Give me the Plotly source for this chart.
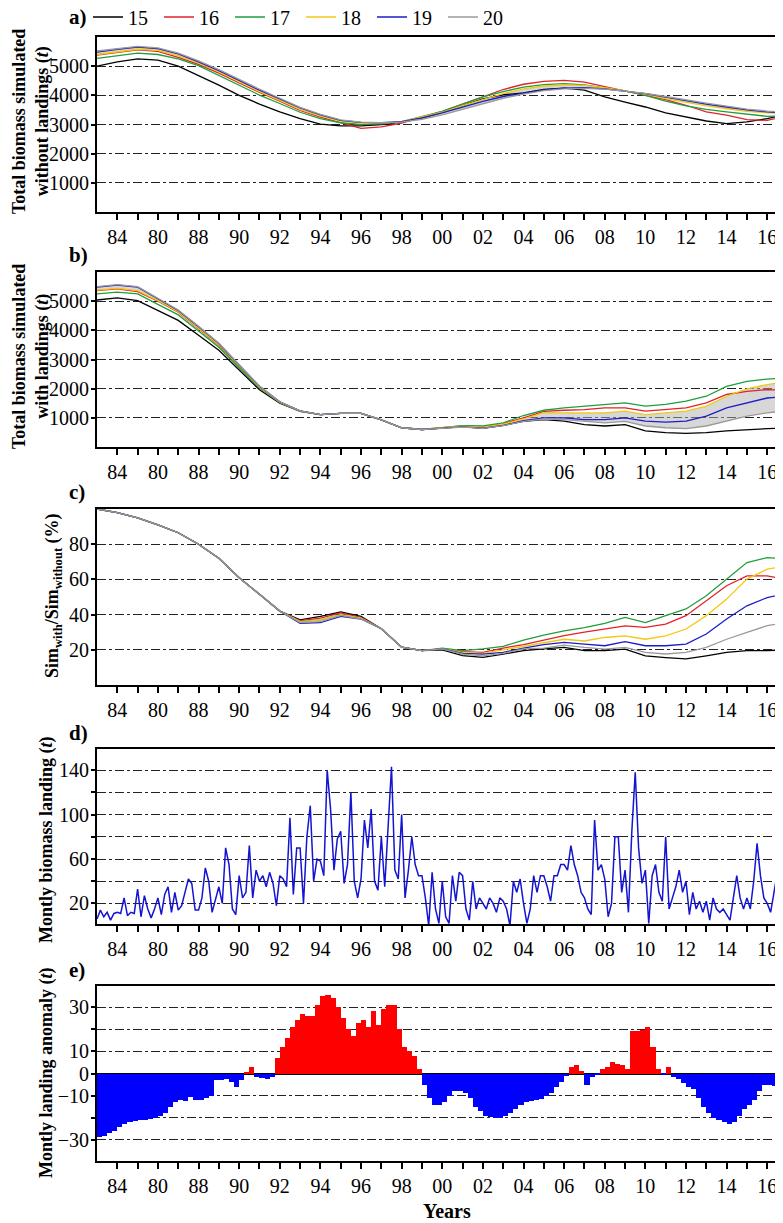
import plotly.graph_objects as go

# page body has an 8px default margin: figure is sized so that it fills the window exactly
OFF = 8
W, H = 783 - OFF, 1223 - OFF
FONT = "Liberation Serif, DejaVu Serif, Times New Roman, Times, serif"

# ---------------- data ----------------
YEARS = list(range(1983, 2017)) + [2016.75]
SERIES = ["15", "16", "17", "18", "19", "20"]

A_15 = [5000, 5150, 5250, 5210, 5000, 4680, 4350, 4000, 3700, 3430, 3200, 3010, 2950, 2950, 3000, 3080, 3220, 3420, 3650, 3880, 4020, 4080, 4200, 4250, 4180, 3950, 3770, 3600, 3400, 3250, 3120, 3030, 3090, 3200, 3320]
A_16 = [5380, 5470, 5560, 5510, 5300, 5060, 4760, 4430, 4100, 3800, 3480, 3250, 3050, 2870, 2920, 3050, 3250, 3450, 3700, 3950, 4200, 4380, 4480, 4510, 4450, 4300, 4150, 4020, 3850, 3660, 3430, 3320, 3170, 3140, 3260]
A_17 = [5270, 5370, 5450, 5400, 5250, 5020, 4680, 4340, 4010, 3720, 3420, 3200, 3060, 3000, 3020, 3100, 3280, 3450, 3700, 3950, 4130, 4280, 4370, 4400, 4360, 4250, 4150, 4000, 3800, 3640, 3520, 3430, 3350, 3280, 3290]
A_18 = [5400, 5500, 5580, 5540, 5350, 5110, 4800, 4460, 4130, 3830, 3520, 3290, 3120, 3050, 3050, 3100, 3250, 3420, 3650, 3860, 4060, 4220, 4320, 4360, 4340, 4260, 4160, 4040, 3890, 3760, 3640, 3540, 3450, 3400, 3380]
A_19 = [5480, 5580, 5650, 5600, 5420, 5150, 4850, 4510, 4180, 3880, 3570, 3330, 3140, 3070, 3060, 3100, 3230, 3400, 3600, 3790, 3960, 4080, 4190, 4250, 4260, 4220, 4150, 4060, 3940, 3810, 3700, 3600, 3500, 3430, 3400]
A_20 = [5520, 5610, 5680, 5630, 5450, 5180, 4880, 4550, 4210, 3900, 3590, 3350, 3160, 3080, 3060, 3080, 3180, 3330, 3520, 3720, 3900, 4040, 4160, 4220, 4240, 4210, 4150, 4070, 3960, 3840, 3730, 3630, 3530, 3460, 3420]

B_15 = [5040, 5110, 5020, 4680, 4340, 3830, 3320, 2640, 1960, 1500, 1220, 1110, 1150, 1150, 930, 660, 600, 650, 700, 640, 740, 880, 940, 890, 770, 720, 770, 550, 490, 470, 490, 550, 600, 630, 650]
B_16 = [5360, 5420, 5330, 5000, 4620, 4060, 3480, 2760, 2050, 1540, 1230, 1110, 1150, 1150, 930, 660, 600, 660, 720, 700, 800, 1000, 1220, 1260, 1280, 1340, 1340, 1230, 1290, 1340, 1510, 1800, 1910, 1970, 1950]
B_17 = [5250, 5310, 5250, 4900, 4530, 3980, 3420, 2720, 2020, 1530, 1230, 1110, 1150, 1150, 930, 660, 600, 660, 730, 720, 830, 1080, 1260, 1340, 1400, 1460, 1510, 1400, 1460, 1570, 1740, 2080, 2250, 2330, 2360]
B_18 = [5380, 5440, 5360, 5020, 4640, 4080, 3500, 2780, 2060, 1540, 1230, 1110, 1150, 1150, 930, 660, 600, 660, 710, 680, 780, 960, 1180, 1170, 1170, 1170, 1230, 1110, 1170, 1230, 1400, 1740, 1990, 2140, 2220]
B_19 = [5480, 5550, 5480, 5080, 4680, 4120, 3550, 2810, 2080, 1550, 1240, 1110, 1150, 1150, 930, 660, 600, 650, 690, 650, 740, 900, 1000, 1000, 940, 940, 1000, 890, 850, 890, 1060, 1340, 1510, 1680, 1720]
B_20 = [5500, 5570, 5500, 5100, 4700, 4140, 3560, 2820, 2090, 1550, 1240, 1110, 1150, 1150, 930, 660, 600, 640, 680, 640, 730, 880, 960, 940, 880, 830, 880, 720, 660, 630, 720, 890, 1060, 1170, 1230]

C_15 = [100, 98, 95, 91, 86.5, 80, 72, 61, 51.5, 42, 37, 39, 41.5, 39, 32, 21.5, 19.5, 20, 16.7, 15.7, 17.6, 19.5, 20.5, 21.4, 19.5, 19.5, 20.4, 16.6, 15.6, 14.8, 16.6, 18.5, 19.5, 19.5, 20]
C_16 = [100, 98, 95, 91, 86.5, 80, 72, 61, 51.5, 42, 36.5, 38, 41, 38.5, 32, 21.5, 19.5, 20.5, 19, 18.5, 21, 23, 25.5, 28, 30, 32, 33.6, 32.7, 34.6, 39.4, 47.9, 56.4, 62, 62, 60.4]
C_17 = [100, 98, 95, 91, 86.5, 80, 72, 61, 51.5, 42, 36, 37, 40, 38, 32, 21.5, 19.5, 21, 19.5, 20.5, 22, 25.5, 28.4, 30.8, 32.6, 35, 38.4, 35.5, 39.4, 43.2, 50.7, 60.2, 69.6, 72.4, 71.9]
C_18 = [100, 98, 95, 91, 86.5, 80, 72, 61, 51.5, 42, 36, 37, 40, 38, 32, 21.5, 19.5, 20.5, 18.5, 18, 20, 22, 24, 26, 25, 27, 27.9, 26, 27.9, 31.8, 39.4, 48.8, 60.2, 65.8, 67.3]
C_19 = [100, 98, 95, 91, 86.5, 80, 72, 61, 51.5, 42, 35, 35.5, 39, 37.5, 32, 21.5, 19.5, 20.5, 18, 17.5, 18.5, 21, 23, 24.2, 23.2, 22.3, 24.6, 22.3, 22.3, 23.2, 29, 37.5, 45, 49.7, 51.6]
C_20 = [100, 98, 95, 91, 86.5, 80, 72, 61, 51.5, 42, 35.5, 36, 39.5, 37.5, 32, 21.5, 19.5, 20.5, 17.5, 16.5, 18, 20.5, 21, 22.7, 21.4, 20.4, 21.4, 18.5, 17.6, 18.5, 21.4, 26, 29.9, 33.7, 35.2]

# monthly landings, sampled every two months (6 values per year, 1983-2016)
LANDING = [
    6, 14, 8, 12, 5, 11,        # 1983
    12, 11, 25, 9, 12, 11,      # 1984
    33, 8, 27, 15, 7, 15,       # 1985
    25, 10, 28, 35, 12, 30,     # 1986
    14, 18, 30, 42, 38, 14,     # 1987
    14, 25, 52, 40, 12, 24,     # 1988
    35, 20, 70, 55, 15, 10,     # 1989
    45, 25, 30, 72, 25, 50,     # 1990
    40, 45, 35, 48, 38, 18,     # 1991
    45, 42, 35, 97, 28, 70,     # 1992
    70, 20, 80, 108, 40, 60,    # 1993
    58, 45, 140, 105, 50, 78,   # 1994
    85, 38, 55, 120, 40, 25,    # 1995
    42, 95, 70, 105, 40, 32,    # 1996
    80, 35, 85, 143, 50, 42,    # 1997
    100, 25, 50, 80, 55, 45,    # 1998
    45, 25, 0, 48, 15, 2,       # 1999
    40, 8, 2, 45, 22, 48,       # 2000
    45, 15, 5, 40, 15, 25,      # 2001
    20, 15, 25, 20, 12, 25,     # 2002
    22, 15, 0, 40, 30, 42,      # 2003
    20, 2, 15, 45, 30, 45,      # 2004
    45, 35, 22, 45, 45, 55,     # 2005
    55, 50, 72, 55, 45, 30,     # 2006
    25, 15, 10, 95, 50, 55,     # 2007
    42, 8, 20, 80, 80, 30,      # 2008
    50, 12, 85, 138, 70, 38,    # 2009
    50, 2, 45, 55, 30, 22,      # 2010
    80, 15, 25, 35, 50, 30,     # 2011
    40, 10, 30, 15, 22, 12,     # 2012
    22, 5, 25, 15, 12, 15,      # 2013
    10, 5, 25, 45, 25, 15,      # 2014
    25, 15, 40, 74, 45, 25,     # 2015
    20, 12, 30, 48, 40, 30,     # 2016
]
LANDING_X = [1983 + i / 6 for i in range(len(LANDING))]

# landing anomaly, quarterly (1983-2016)
ANOMALY = [
    -28.5, -28, -27, -26,   # 1983
    -24, -23, -22, -21.5,   # 1984
    -21, -21, -20.5, -20,   # 1985
    -19, -18, -15, -13,     # 1986
    -12, -12.5, -10.5, -12, # 1987
    -12, -11, -10, -3,      # 1988
    -3, -2.5, -4, -6,       # 1989
    -3, 0.5, 3, -1.5,       # 1990
    -2, -2.5, -1.5, 7,      # 1991
    12, 16, 21, 24,         # 1992
    27, 26, 26, 31,         # 1993
    35, 35.5, 34, 30,       # 1994
    25, 20, 17, 23,         # 1995
    24, 21, 28, 22,         # 1996
    29, 31, 31, 20,         # 1997
    12, 10, 8, 2,           # 1998
    -5, -11, -14, -14,      # 1999
    -13, -10, -8, -8,       # 2000
    -9, -11, -15, -17,      # 2001
    -19, -19.5, -20, -20,   # 2002
    -19, -18, -16, -14,     # 2003
    -13, -12.5, -12, -11.5, # 2004
    -10, -9, -6, -4,        # 2005
    -1, 3, 4, 1,            # 2006
    -5, -1.5, -0.5, 2,      # 2007
    3, 5, 4.5, 4,           # 2008
    2, 19, 19, 19.5,        # 2009
    21, 12, 2, -0.5,        # 2010
    3, -1.5, -2.5, -4.5,    # 2011
    -6, -7, -11, -15,       # 2012
    -18, -20, -21, -22,     # 2013
    -23, -22, -19, -16,     # 2014
    -14, -12, -8, -5,       # 2015
    -5, -5.5, -9, -13,      # 2016
]
ANOMALY_X = [1983 + i / 4 + 0.125 for i in range(len(ANOMALY))]

XTICK_YEARS = list(range(1984, 2017))
XTICK_LABELS = ['84', '80', '88', '90', '92', '94', '96', '98', '00', '02',
                '04', '06', '08', '10', '12', '14', '16']

# ---------------- styles ----------------
COLORS = {"15": "#000000", "16": "#e3212b", "17": "#1f9e3c",
          "18": "#f2c811", "19": "#1c1cc8", "20": "#9a9a9a"}

fig = go.Figure()

def add_panel(series_dict, xa, ya, legend, band):
    if band:
        lo, hi = series_dict["20"], series_dict["18"]
        fig.add_trace(go.Scatter(x=YEARS, y=lo, mode="lines", line=dict(width=0),
                                 showlegend=False, hoverinfo="skip", xaxis=xa, yaxis=ya))
        fig.add_trace(go.Scatter(x=YEARS, y=hi, mode="lines", line=dict(width=0),
                                 fill="tonexty", fillcolor="rgba(175,175,175,0.5)",
                                 showlegend=False, hoverinfo="skip", xaxis=xa, yaxis=ya))
    for s in SERIES:
        fig.add_trace(go.Scatter(x=YEARS, y=series_dict[s], mode="lines", name=s,
                                 line=dict(color=COLORS[s], width=1.3),
                                 legendgroup=s, showlegend=legend,
                                 xaxis=xa, yaxis=ya))

add_panel(dict(zip(SERIES, [A_15, A_16, A_17, A_18, A_19, A_20])), "x", "y", True, True)
add_panel(dict(zip(SERIES, [B_15, B_16, B_17, B_18, B_19, B_20])), "x2", "y2", False, True)
add_panel(dict(zip(SERIES, [C_15, C_16, C_17, C_18, C_19, C_20])), "x3", "y3", False, False)

fig.add_trace(go.Scatter(x=LANDING_X, y=LANDING, mode="lines",
                         line=dict(color="#1414d2", width=1.5),
                         showlegend=False, xaxis="x4", yaxis="y4"))

fig.add_trace(go.Bar(x=ANOMALY_X, y=ANOMALY, width=0.25,
                     marker=dict(color=["#ff0000" if v >= 0 else "#0000ff" for v in ANOMALY],
                                 line=dict(width=0)),
                     showlegend=False, xaxis="x5", yaxis="y5"))

# ---------------- layout (positions given in window pixels) ----------------
def fx(px):
    return (px - OFF) / W

def fy(py):
    return 1 - (py - OFF) / H

PANELS = [(37, 212), (272, 447), (509, 685), (749, 924), (986, 1161)]
XDOM = [fx(97), 1.0]
XMAX = 1983 + (OFF + W - 97) / 20.31   # year at right edge of window

ticktext = []
for y in XTICK_YEARS:
    ticktext.append(XTICK_LABELS[(y - 1984) // 2] if (y - 1984) % 2 == 0 else " ")

tickfont = dict(family=FONT, size=20, color="black")

def xaxis(anchor):
    return dict(domain=XDOM, anchor=anchor, range=[1983, XMAX],
                tickmode="array", tickvals=XTICK_YEARS, ticktext=ticktext,
                ticks="outside", ticklen=6, tickwidth=1.5, tickcolor="black",
                showline=True, linewidth=2, linecolor="black", mirror=True,
                showgrid=False, zeroline=False, tickfont=tickfont, fixedrange=True,
                automargin=False)

def yaxis(anchor, top, bottom, rng, vals, texts):
    return dict(domain=[fy(bottom), fy(top)], anchor=anchor, range=rng, tickmode="array",
                tickvals=vals, ticktext=texts,
                ticks="outside", ticklen=4, tickwidth=1.5, tickcolor="black",
                ticklabelstandoff=-2,
                showline=True, linewidth=2, linecolor="black", mirror=False,
                showgrid=True, gridcolor="#222222", gridwidth=1.2, griddash="dashdot",
                zeroline=False, tickfont=tickfont, fixedrange=True, automargin=False)

lay = dict(width=W, height=H, margin=dict(l=0, r=0, t=0, b=0, autoexpand=False),
           paper_bgcolor="white", plot_bgcolor="white", bargap=0,
           font=dict(family=FONT, color="black"),
           legend=dict(orientation="h", x=fx(88), xanchor="left",
                       y=fy(17), yanchor="middle",
                       font=dict(family=FONT, size=20, color="black"),
                       bgcolor="rgba(0,0,0,0)", itemwidth=30,
                       entrywidth=26, entrywidthmode="pixels", tracegroupgap=0))

names = ["", "2", "3", "4", "5"]
for n in names:
    lay["xaxis" + n] = xaxis("y" + n)

lay["yaxis"] = yaxis("x", *PANELS[0], [0, 6000],
                     [1000, 2000, 3000, 4000, 5000], ["1000", "2000", "3000", "4000", "5000"])
lay["yaxis2"] = yaxis("x2", *PANELS[1], [0, 6000],
                      [1000, 2000, 3000, 4000, 5000], ["1000", "2000", "3000", "4000", "5000"])
lay["yaxis3"] = yaxis("x3", *PANELS[2], [0, 100],
                      [20, 40, 60, 80], ["20", "40", "60", "80"])
lay["yaxis4"] = yaxis("x4", *PANELS[3], [1.5, 159],
                      [20, 40, 60, 80, 100, 120, 140], ["20", " ", "60", " ", "100", " ", "140"])
y5 = yaxis("x5", *PANELS[4], [-39.5, 39.5],
           [-30, -20, -10, 0, 10, 20, 30], ["\u221230", " ", "\u221210", "0", "10", " ", "30"])
y5.update(zeroline=True, zerolinecolor="black", zerolinewidth=1.5)
lay["yaxis5"] = y5

fig.update_layout(**lay)

# ---------------- annotations ----------------
def ann(text, xpx, ypx, size=20, angle=0, xanchor="center"):
    fig.add_annotation(text=text, xref="paper", yref="paper",
                       x=fx(xpx), y=fy(ypx), xanchor=xanchor, yanchor="middle",
                       showarrow=False, textangle=angle,
                       font=dict(family=FONT, size=size, color="black"))

for lab, ypx in zip(["a)", "b)", "c)", "d)", "e)"], [17, 255, 492, 733, 970]):
    ann("<b>%s</b>" % lab, 67, ypx, size=21, xanchor="left")

ann("<b>Total biomass simulated<br>without landings (<i>t</i>)</b>", 31, 122, size=18, angle=-90)
ann("<b>Total biomass simulated<br>with landings (<i>t</i>)</b>", 31, 357, size=18, angle=-90)
ann("<b>Sim<sub>with</sub>/Sim<sub>without</sub> (%)</b>", 53, 596, size=18, angle=-90)
ann("<b>Montly biomass landing (<i>t</i>)</b>", 46, 840, size=18, angle=-90)
ann("<b>Montly landing anomaly (<i>t</i>)</b>", 46, 1073, size=18, angle=-90)
ann("<b>Years</b>", 447, 1211, size=20)

fig.write_html("out.html")
